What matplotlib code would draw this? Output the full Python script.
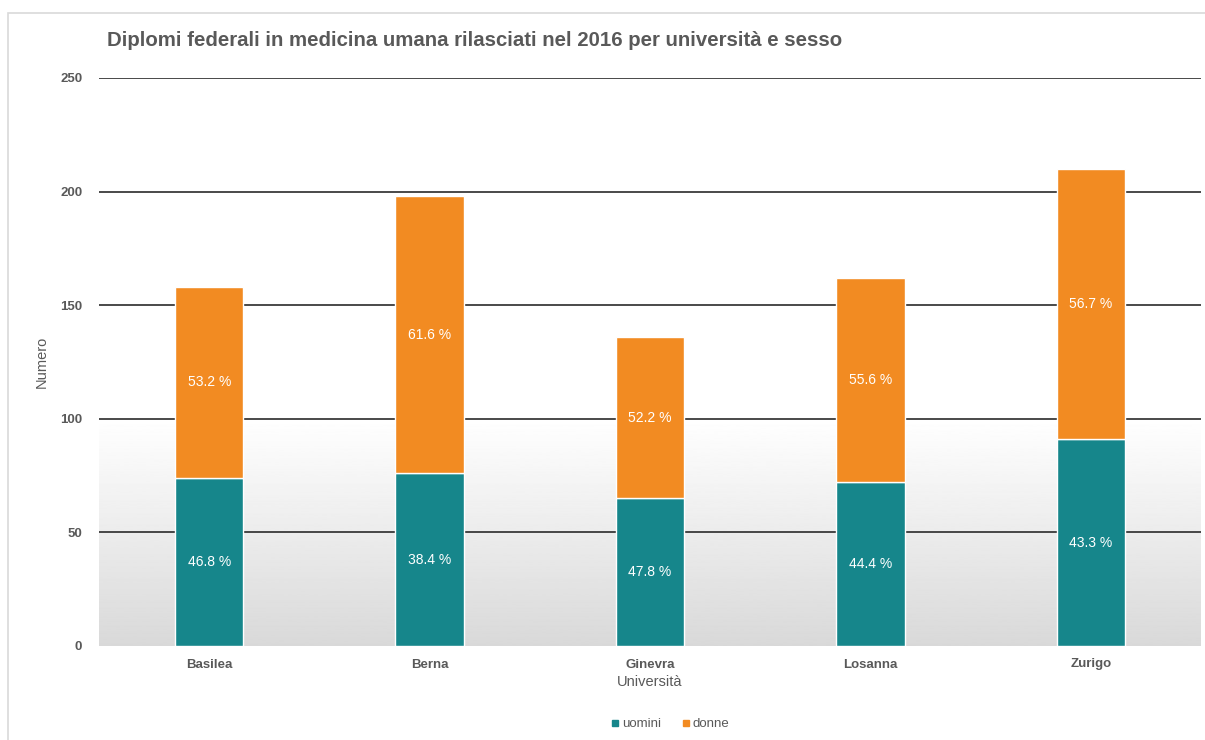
import matplotlib
matplotlib.use("Agg")
import matplotlib.pyplot as plt
import numpy as np
from matplotlib.patches import Rectangle
from matplotlib.lines import Line2D

universities = ["Basilea", "Berna", "Ginevra", "Losanna", "Zurigo"]
uomini = [74, 76, 65, 72, 91]
donne = [84, 122, 71, 90, 119]
pct_uomini = ["46.8 %", "38.4 %", "47.8 %", "44.4 %", "43.3 %"]
pct_donne = ["53.2 %", "61.6 %", "52.2 %", "55.6 %", "56.7 %"]
yticks = [0, 50, 100, 150, 200, 250]

teal = "#16868b"
orange = "#f28b22"
gray_text = "#595959"

plt.rcParams['font.family'] = ['Liberation Sans', 'DejaVu Sans']

fig = plt.figure(figsize=(12.05, 7.40), dpi=100)
ax = fig.add_axes([99/1205, 94/740, 1102/1205, 568/740])

# border of the chart container
fig.add_artist(Rectangle((8/1205, -0.01), 1.2, (740-13)/740 + 0.01, transform=fig.transFigure,
                         fill=False, edgecolor="#d9d9d9", linewidth=1.2))

x = np.arange(len(universities))
ax.set_xlim(-0.5, len(universities) - 0.5)
ax.set_ylim(0, 250)

# gradient background from 100 to 0
grad = np.linspace(0.85, 1.0, 256).reshape(-1, 1)
ax.imshow(grad, cmap="gray", vmin=0, vmax=1, aspect="auto", origin="lower",
          extent=(-0.5, len(universities) - 0.5, 0, 100), zorder=0)

for y in yticks[1:]:
    ax.axhline(y, color="#2a2a2a", linewidth=1.2, zorder=1)

w = 0.31
ax.bar(x, uomini, width=w, color=teal, edgecolor="white", linewidth=1, zorder=2, label="uomini")
ax.bar(x, donne, width=w, bottom=uomini, color=orange, edgecolor="white", linewidth=1, zorder=2, label="donne")

for i in range(len(universities)):
    ax.text(x[i], uomini[i] / 2, pct_uomini[i], ha="center", va="center", color="white", fontsize=10, zorder=3)
    ax.text(x[i], uomini[i] + donne[i] / 2, pct_donne[i], ha="center", va="center", color="white", fontsize=10, zorder=3)

ax.set_xticks(x)
ax.set_xticklabels(universities, fontsize=9.5, fontweight="bold", color=gray_text)
ax.set_yticks(yticks)
ax.set_yticklabels([str(v) for v in yticks], fontsize=9.5, fontweight="bold", color=gray_text)
ax.tick_params(axis="both", length=0)
ax.tick_params(axis="x", pad=9)
ax.tick_params(axis="y", pad=12)
for s in ax.spines.values():
    s.set_visible(False)

ax.set_xlabel("Università", fontsize=10.5, color=gray_text, labelpad=3)
ax.set_ylabel("Numero", fontsize=10.5, color=gray_text, labelpad=8)

fig.text(107/1205, 1 - 41/740, "Diplomi federali in medicina umana rilasciati nel 2016 per università e sesso",
         fontsize=14.7, fontweight="bold", color=gray_text, ha="left", va="center")

handles = [Line2D([], [], marker="s", linestyle="none", color=teal, markersize=5),
           Line2D([], [], marker="s", linestyle="none", color=orange, markersize=5)]
leg = fig.legend(handles, ["uomini", "donne"], loc="center", bbox_to_anchor=(669/1205, 1 - 724/740),
                 ncol=2, frameon=False, fontsize=9.5, handletextpad=0.0, columnspacing=1.4, handlelength=1.0)
for t in leg.get_texts():
    t.set_color(gray_text)

fig.savefig("out.png", dpi=100)
